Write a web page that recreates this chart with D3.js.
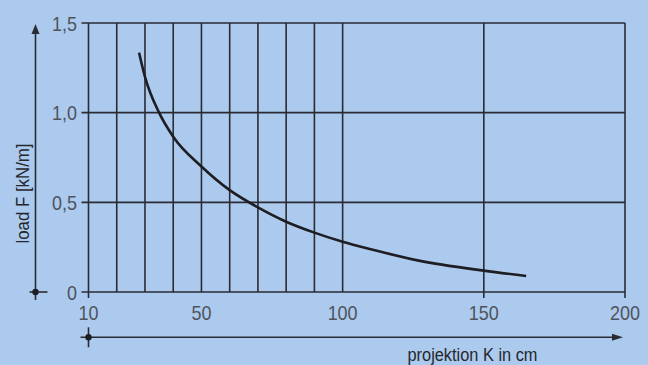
<!DOCTYPE html>
<html><head><meta charset="utf-8">
<script src="https://cdn.jsdelivr.net/npm/d3@7"></script>
<style>html,body{margin:0;padding:0;background:#abcaee;}svg{display:block;}</style>
</head><body>
<svg id="c" width="648" height="365"></svg>
<script>
// ---- data ----
const xGrid = [10,20,30,40,50,60,70,80,90,100,150,200];
const xTicks = [10,50,100,150,200];
const xTickLabels = ["10","50","100","150","200"];
const yTicks = [0,0.5,1.0,1.5];
const yTickLabels = ["0","0,5","1,0","1,5"];
const curveX = [27.9,30,35,40,50,60,70,80,90,100,110,127,150,165];
const curveF = [1.335,1.20,1.00,0.866,0.70,0.568,0.472,0.392,0.331,0.280,0.238,0.175,0.119,0.089];
const xLabel = "projektion K in cm";
const yLabel = "load F [kN/m]";

const svg = d3.select("#c");
const W=648,H=365;
svg.append("rect").attr("width",W).attr("height",H).attr("fill","#abcaee");

const x = d3.scaleLinear().domain([10,200]).range([88.5,625]);
const y = d3.scaleLinear().domain([0,1.5]).range([292,23]);
const lineCol = "#2a2b33";
const g = svg.append("g");

// horizontal grid lines (extend left as ticks)
g.selectAll("line.h").data(yTicks).join("line")
  .attr("x1", x(10)-7).attr("x2", x(200))
  .attr("y1", d=>y(d)).attr("y2", d=>y(d))
  .attr("stroke", lineCol).attr("stroke-width",1.6);

// vertical grid lines
const longTicks = new Set([10,150,200]);
g.selectAll("line.v").data(xGrid).join("line")
  .attr("x1", d=>x(d)).attr("x2", d=>x(d))
  .attr("y1", y(1.5)).attr("y2", d=> longTicks.has(d) ? y(0)+6 : y(0))
  .attr("stroke", lineCol).attr("stroke-width",1.6);

// curve
const pts = curveX.map((v,i)=>[v,curveF[i]]);
g.append("path").datum(pts)
  .attr("d", d3.line().x(d=>x(d[0])).y(d=>y(d[1])).curve(d3.curveMonotoneX))
  .attr("fill","none").attr("stroke","#1e1e22").attr("stroke-width",2.6).attr("stroke-linecap","butt");

// tick labels
const fam = "'Liberation Sans', Arial, sans-serif";
function wOf(s){ let w=0; for(const ch of s){ w += (ch===",")?5:10; } return w; }
g.selectAll("text.yt").data(yTicks).join("text")
  .attr("x", 77).attr("y", d=>y(d)+7.5)
  .attr("text-anchor","end")
  .attr("font-family",fam).attr("font-size",21).attr("fill","#50535b")
  .attr("textLength",(d,i)=>wOf(yTickLabels[i])).attr("lengthAdjust","spacingAndGlyphs")
  .text((d,i)=>yTickLabels[i]);
g.selectAll("text.xt").data(xTicks).join("text")
  .attr("x", d=>x(d)).attr("y", 320)
  .attr("text-anchor","middle")
  .attr("font-family",fam).attr("font-size",21).attr("fill","#50535b")
  .attr("textLength",(d,i)=>wOf(xTickLabels[i])).attr("lengthAdjust","spacingAndGlyphs")
  .text((d,i)=>xTickLabels[i]);

// left arrow axis
const ax = 35.5;
g.append("line").attr("x1",ax).attr("x2",ax).attr("y1",30).attr("y2",y(0)+8)
  .attr("stroke",lineCol).attr("stroke-width",1.6);
g.append("path").attr("d",`M${ax},24 L${ax-4},34 L${ax+4},34 Z`).attr("fill",lineCol);
g.append("line").attr("x1",ax-6).attr("x2",ax+12).attr("y1",y(0)).attr("y2",y(0))
  .attr("stroke",lineCol).attr("stroke-width",1.6);
g.append("circle").attr("cx",ax).attr("cy",y(0)).attr("r",3.2).attr("fill","#1e1e22");

// bottom arrow axis
const ay = 337.3;
g.append("line").attr("x1",x(10)-8).attr("x2",615).attr("y1",ay).attr("y2",ay)
  .attr("stroke",lineCol).attr("stroke-width",1.6);
g.append("path").attr("d",`M623,${ay} L612,${ay-3.5} L612,${ay+3.5} Z`).attr("fill",lineCol);
g.append("line").attr("x1",x(10)).attr("x2",x(10)).attr("y1",ay-10).attr("y2",ay+10)
  .attr("stroke",lineCol).attr("stroke-width",1.6);
g.append("circle").attr("cx",x(10)).attr("cy",ay).attr("r",3.2).attr("fill","#1e1e22");

// axis titles
g.append("text").attr("x",407.5).attr("y",361)
  .attr("font-family",fam).attr("font-size",18).attr("fill","#26272c")
  .attr("textLength",130).attr("lengthAdjust","spacingAndGlyphs")
  .text(xLabel);
g.append("text").attr("transform","translate(29,243.5) rotate(-90)")
  .attr("font-family",fam).attr("font-size",18).attr("fill","#26272c")
  .attr("textLength",100).attr("lengthAdjust","spacingAndGlyphs")
  .text(yLabel);
</script>
</body></html>
